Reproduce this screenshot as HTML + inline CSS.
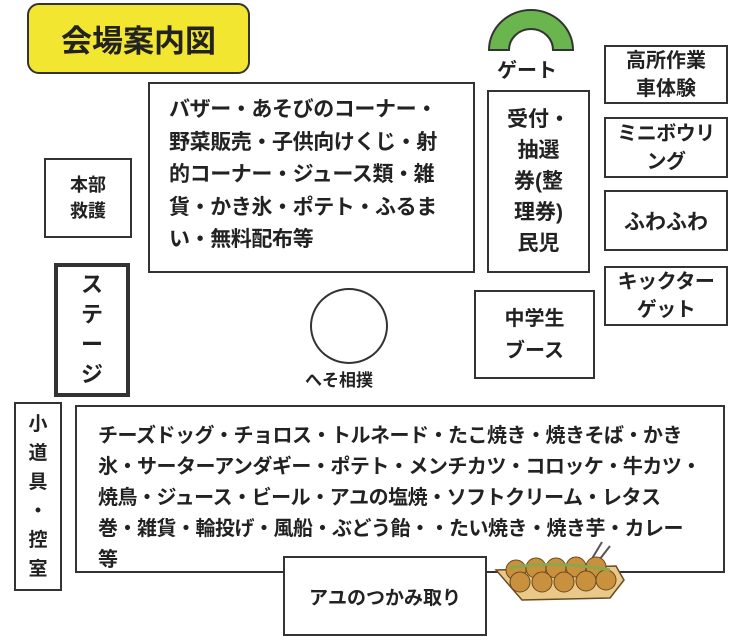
<!DOCTYPE html>
<html><head><meta charset="utf-8"><style>
body{margin:0;width:740px;height:640px;background:#fff;position:relative;overflow:hidden;font-family:"Liberation Sans","Noto Sans CJK JP",sans-serif;font-weight:bold;color:#222}
.b{position:absolute;border:2.5px solid #333;box-sizing:border-box;background:#fff}
.c{display:flex;align-items:center;justify-content:center;text-align:center}
.t{position:absolute;white-space:nowrap}
</style></head><body>
<div class="b c" style="left:27px;top:3px;width:223px;height:71px;background:#f2e631;border-radius:12px;font-size:31px">会場案内図</div>
<svg style="position:absolute;left:486px;top:8px" width="90" height="46"><path d="M3 42 A42 40 0 0 1 87 42 L67 42 A22 21 0 0 0 23 42 Z" fill="#6bb54f" stroke="#333" stroke-width="2"/></svg>
<div class="t" style="left:497px;top:54px;font-size:20px">ゲート</div>
<div class="b" style="left:148px;top:82px;width:327px;height:191px;font-size:21px;line-height:32.5px;padding:10px 0 0 19px;letter-spacing:-0.4px;white-space:nowrap">バザー・あそびのコーナー・<br>野菜販売・子供向けくじ・射<br>的コーナー・ジュース類・雑<br>貨・かき氷・ポテト・ふるま<br>い・無料配布等</div>
<div class="b c" style="left:487px;top:90px;width:103px;height:183px;font-size:21px;line-height:31px">受付・<br>抽選<br>券(整<br>理券)<br>民児</div>
<div class="b c" style="left:604px;top:45px;width:124px;height:59px;font-size:20px;line-height:28px">高所作業<br>車体験</div>
<div class="b c" style="left:604px;top:117px;width:124px;height:61px;font-size:20px;line-height:28px;letter-spacing:-0.5px">ミニボウリ<br>ング</div>
<div class="b c" style="left:604px;top:190px;width:124px;height:61px;font-size:21px">ふわふわ</div>
<div class="b c" style="left:604px;top:266px;width:124px;height:60px;font-size:20px;line-height:28px;letter-spacing:-0.5px">キックター<br>ゲット</div>
<div class="b c" style="left:44px;top:158px;width:88px;height:80px;font-size:18px;line-height:26px">本部<br>救護</div>
<div class="b c" style="left:54px;top:263px;width:76px;height:134px;border-width:4px;font-size:22px;line-height:30px">ス<br>テ<br>ー<br>ジ</div>
<div class="b" style="left:310px;top:288px;width:78px;height:76px;border-radius:50%"></div>
<div class="t" style="left:305px;top:366px;font-size:17px">へそ相撲</div>
<div class="b c" style="left:474px;top:290px;width:121px;height:89px;font-size:20px;line-height:32px">中学生<br>ブース</div>
<div class="b c" style="left:14px;top:402px;width:48px;height:189px;font-size:19px;line-height:29px">小<br>道<br>具<br>・<br>控<br>室</div>
<div class="b" style="left:75px;top:405px;width:650px;height:168px;font-size:20px;line-height:31px;padding:14px 0 0 21px;letter-spacing:-0.5px;white-space:nowrap">チーズドッグ・チョロス・トルネード・たこ焼き・焼きそば・かき<br>氷・サーターアンダギー・ポテト・メンチカツ・コロッケ・牛カツ・<br>焼鳥・ジュース・ビール・アユの塩焼・ソフトクリーム・レタス<br>巻・雑貨・輪投げ・風船・ぶどう飴・・たい焼き・焼き芋・カレー<br>等</div>
<div class="b c" style="left:283px;top:556px;width:204px;height:80px;font-size:19px">アユのつかみ取り</div>
<svg style="position:absolute;left:492px;top:540px" width="135" height="62">
<line x1="98" y1="22" x2="110" y2="2" stroke="#555" stroke-width="2"/><line x1="104" y1="24" x2="118" y2="6" stroke="#555" stroke-width="2"/>
<path d="M4 30 L124 26 L132 40 L118 58 L30 60 Z" fill="#e8c98a" stroke="#6a4a20" stroke-width="1.5"/>
<g fill="#c9903e" stroke="#6a4a20"><circle cx="24" cy="30" r="10"/><circle cx="44" cy="28" r="10"/><circle cx="64" cy="28" r="10"/><circle cx="84" cy="27" r="10"/><circle cx="104" cy="27" r="10"/><circle cx="28" cy="42" r="10"/><circle cx="50" cy="42" r="10"/><circle cx="72" cy="42" r="10"/><circle cx="94" cy="41" r="10"/><circle cx="114" cy="40" r="10"/></g>
<path d="M18 28 Q60 20 118 30" stroke="#8aa84a" stroke-width="3" fill="none"/>
</svg>
</body></html>
